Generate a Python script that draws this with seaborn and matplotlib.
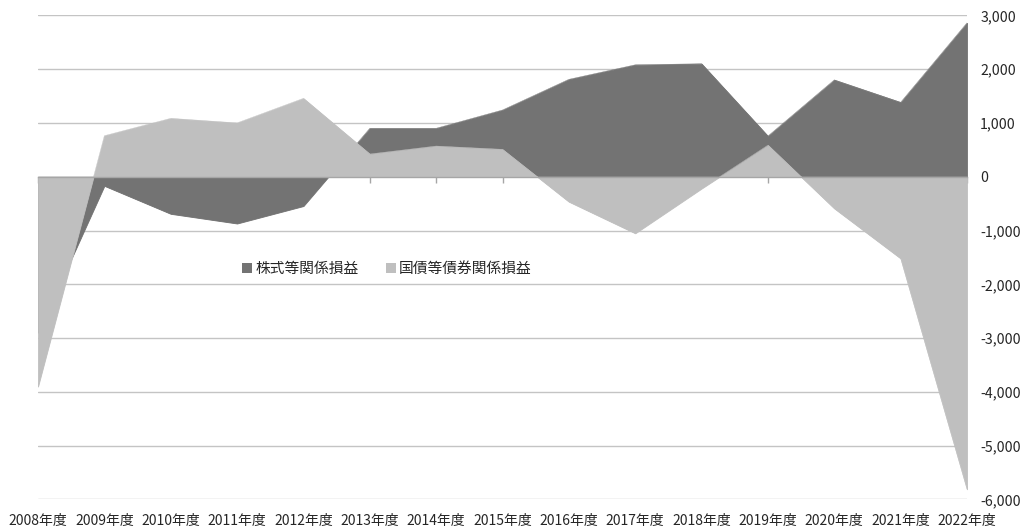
import matplotlib
matplotlib.use("Agg")
import matplotlib.pyplot as plt
from matplotlib.lines import Line2D
from matplotlib.ticker import FuncFormatter, FixedLocator
import seaborn as sns
import pandas as pd

# 年度別の有価証券関係損益（億円）
years = ["2008年度", "2009年度", "2010年度", "2011年度", "2012年度", "2013年度",
         "2014年度", "2015年度", "2016年度", "2017年度", "2018年度", "2019年度",
         "2020年度", "2021年度", "2022年度"]
stock_gains = [-2900, -170, -690, -870, -545, 900, 900, 1240, 1810, 2080,
               2100, 756, 1800, 1383, 2860]
bond_gains = [-3900, 762, 1085, 1000, 1457, 422, 570, 509, -465, -1052,
              -220, 587, -590, -1520, -5810]
series_names = ["株式等関係損益", "国債等債券関係損益"]
y_ticks = [-6000, -5000, -4000, -3000, -2000, -1000, 0, 1000, 2000, 3000]

sns.set_theme(style="white")
plt.rcParams["font.family"] = ["Noto Sans CJK JP", "DejaVu Sans"]

df = pd.DataFrame({"year": years, "pos": range(len(years)),
                   series_names[0]: stock_gains, series_names[1]: bond_gains})

colors = {series_names[0]: "#737373", series_names[1]: "#bfbfbf"}
text_color = "#262626"

fig = plt.figure(figsize=(10.22, 5.32), dpi=100)
ax = fig.add_axes([0.0372, 0.0611, 0.909, 0.9101])

# 面グラフ：後の系列を上に重ねる
for i, name in enumerate(series_names):
    z = 1 + 2 * i
    sns.lineplot(data=df, x="pos", y=name, ax=ax, color=colors[name],
                 linewidth=0.3, zorder=z, legend=False)
    ax.fill_between(df["pos"], 0, df[name], facecolor=colors[name],
                    edgecolor=colors[name], linewidth=0.6, zorder=z + 1)

ax.set_xlim(0, len(years) - 1)
ax.set_ylim(min(y_ticks), max(y_ticks))
ax.set_xlabel("")
ax.set_ylabel("")

# 目盛線
for v in y_ticks:
    if v != 0:
        ax.axhline(v, color="#c4c4c4", linewidth=1.0, zorder=0)

for side in ["top", "left", "right"]:
    ax.spines[side].set_visible(False)
ax.spines["bottom"].set_position(("data", 0))
ax.spines["bottom"].set_color("#a6a6a6")
ax.spines["bottom"].set_linewidth(1.0)
ax.spines["bottom"].set_zorder(6)

ax.xaxis.set_major_locator(FixedLocator(df["pos"].tolist()))
ax.tick_params(axis="x", which="major", direction="out", length=4,
               width=1.0, color="#a6a6a6", labelbottom=False, bottom=True)

# 横軸ラベルはグラフ下端に配置
sec = ax.secondary_xaxis(0)
sec.set_xticks(df["pos"].tolist())
sec.set_xticklabels(years)
sec.tick_params(axis="x", length=0, pad=10.5, labelsize=10, labelcolor=text_color)
sec.spines["bottom"].set_visible(False)

ax.yaxis.tick_right()
ax.set_yticks(y_ticks)
ax.yaxis.set_major_formatter(FuncFormatter(lambda v, p: f"{v:,.0f}"))
ax.tick_params(axis="y", length=0, pad=9.5, labelsize=10.2, labelcolor=text_color)
ax.grid(False)

handles = [Line2D([0], [0], marker="s", linestyle="none", markersize=6.5,
                  markerfacecolor=colors[n], markeredgewidth=0) for n in series_names]
ax.legend(handles, series_names, loc="center", bbox_to_anchor=(0.376, 0.476),
          ncol=2, frameon=False, fontsize=10.6, handlelength=0.6,
          handletextpad=0.25, columnspacing=1.9, labelcolor=text_color)

fig.savefig("out.png", dpi=100)
